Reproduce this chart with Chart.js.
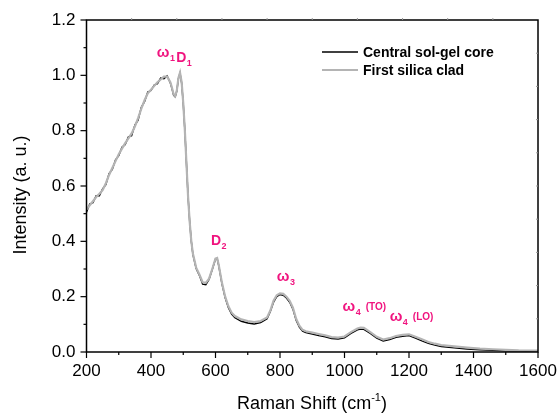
<!DOCTYPE html>
<html>
<head>
<meta charset="utf-8">
<script src="https://cdn.jsdelivr.net/npm/chart.js@4/dist/chart.umd.min.js"></script>
<style>
html,body{margin:0;padding:0;background:#fff;}
#wrap{width:559px;height:416px;position:relative;}
</style>
</head>
<body>
<div id="wrap"><canvas id="c" width="559" height="416"></canvas></div>
<script>
// ---- data ----
const seriesNames = ["Central sol-gel core", "First silica clad"];

const shiftClad = [200,210,220,230,240,250,260,270,280,290,300,310,320,330,340,350,360,370,380,390,400,410,420,430,440,450,460,465,470,475,480,485,490,495,500,505,510,515,520,525,530,540,550,560,570,580,590,600,605,610,620,630,640,650,660,680,700,720,740,760,770,780,790,800,810,820,830,840,850,860,870,880,900,920,940,960,980,1000,1020,1040,1050,1060,1080,1100,1120,1140,1160,1180,1200,1220,1240,1260,1280,1300,1340,1380,1420,1460,1500,1540,1600];
const clad = [0.515,0.53,0.545,0.56,0.572,0.585,0.61,0.64,0.665,0.69,0.715,0.735,0.755,0.772,0.79,0.815,0.845,0.88,0.91,0.935,0.948,0.962,0.975,0.985,0.995,0.995,0.975,0.955,0.932,0.925,0.945,0.99,1.01,0.975,0.9,0.8,0.68,0.56,0.47,0.40,0.355,0.305,0.28,0.252,0.25,0.265,0.3,0.338,0.34,0.315,0.25,0.2,0.165,0.142,0.13,0.118,0.112,0.108,0.112,0.125,0.15,0.185,0.205,0.212,0.21,0.2,0.185,0.16,0.12,0.095,0.08,0.075,0.07,0.065,0.06,0.054,0.052,0.056,0.072,0.085,0.088,0.087,0.072,0.055,0.045,0.05,0.058,0.062,0.064,0.055,0.046,0.036,0.03,0.025,0.02,0.016,0.012,0.01,0.008,0.006,0.005];

const shiftCore = shiftClad;
const core = [0.505,0.535,0.54,0.565,0.565,0.59,0.605,0.645,0.66,0.695,0.71,0.74,0.75,0.778,0.782,0.82,0.838,0.885,0.905,0.94,0.945,0.965,0.97,0.99,0.988,0.998,0.972,0.952,0.928,0.922,0.943,0.988,1.008,0.972,0.898,0.8,0.68,0.56,0.47,0.40,0.352,0.302,0.277,0.245,0.243,0.262,0.298,0.336,0.338,0.312,0.246,0.196,0.16,0.137,0.124,0.111,0.105,0.101,0.106,0.12,0.146,0.18,0.2,0.208,0.205,0.195,0.18,0.155,0.115,0.09,0.075,0.07,0.065,0.059,0.055,0.049,0.047,0.051,0.067,0.08,0.083,0.082,0.067,0.05,0.04,0.045,0.053,0.057,0.059,0.05,0.04,0.031,0.025,0.02,0.015,0.011,0.008,0.006,0.004,0.003,0.002];

const xTicks = [200,400,600,800,1000,1200,1400,1600];
const yTicks = [0.0,0.2,0.4,0.6,0.8,1.0,1.2];

// peak labels: symbol, subscript, extra text, anchor (data units)
const peakMain = ["\u03c9","D","D","\u03c9","\u03c9","\u03c9"];
const peakSub  = ["1","1","2","3","4","4"];
const peakExtra= ["","","","","(TO)","(LO)"];
const peakX = [418,478,586,790,994,1140];
const peakY = [1.066,1.048,0.387,0.257,0.148,0.112];

// ---- chart ----
const PINK = '#f0147f';
const FONT = '"Liberation Sans", Arial, sans-serif';

const toPts = (xs, ys) => xs.map((x,i)=>({x:x, y:ys[i]}));

const decor = {
  id:'decor',
  afterDatasetsDraw(chart){
    const ctx = chart.ctx, a = chart.chartArea;
    const xs = chart.scales.x, ys = chart.scales.y;
    ctx.save();
    // frame
    ctx.strokeStyle = '#000'; ctx.lineWidth = 1.5;
    ctx.strokeRect(a.left, a.top, a.right-a.left, a.bottom-a.top);
    // left ticks
    ctx.lineWidth = 1.2;
    for (let v=0; v<=12; v++){
      const y = ys.getPixelForValue(v/10);
      const len = (v%2===0) ? 6 : 3;
      ctx.beginPath(); ctx.moveTo(a.left, y); ctx.lineTo(a.left-len, y); ctx.stroke();
    }
    // bottom ticks
    for (let v=200; v<=1600; v+=100){
      const x = xs.getPixelForValue(v);
      const len = (v%200===0) ? 6 : 3;
      ctx.beginPath(); ctx.moveTo(x, a.bottom); ctx.lineTo(x, a.bottom+len); ctx.stroke();
    }
    // faint top/right ticks
    ctx.strokeStyle = '#999'; ctx.lineWidth = 1;
    for (let i=1;i<10;i++){
      const x = a.left + (a.right-a.left)*i/10;
      ctx.beginPath(); ctx.moveTo(x, a.top); ctx.lineTo(x, a.top-2); ctx.stroke();
      const y = a.top + (a.bottom-a.top)*i/10;
      ctx.beginPath(); ctx.moveTo(a.right, y); ctx.lineTo(a.right-2, y); ctx.stroke();
    }
    // peak labels
    ctx.fillStyle = PINK; ctx.textBaseline = 'alphabetic'; ctx.textAlign='left';
    for (let i=0;i<peakMain.length;i++){
      let x = xs.getPixelForValue(peakX[i]);
      const y = ys.getPixelForValue(peakY[i]);
      ctx.font = (peakMain[i]==='D' ? 'bold 14px ' : 'bold 15px ') + FONT;
      ctx.fillText(peakMain[i], x, y);
      x += ctx.measureText(peakMain[i]).width + 0.5;
      ctx.font = 'bold 9px ' + FONT;
      ctx.fillText(peakSub[i], x, y+4);
      x += ctx.measureText(peakSub[i]).width + 5;
      if (peakExtra[i]){
        ctx.font = 'bold 10px ' + FONT;
        ctx.fillText(peakExtra[i], x, y-1);
      }
    }
    // legend
    const colors = ['#000','#b4b4b4'], widths=[1.6,2];
    ctx.textBaseline = 'middle';
    ctx.font = 'bold 14px ' + FONT;
    for (let i=0;i<2;i++){
      const ly = 52 + i*18;
      ctx.strokeStyle = colors[i]; ctx.lineWidth = widths[i];
      ctx.beginPath(); ctx.moveTo(322, ly); ctx.lineTo(358, ly); ctx.stroke();
      ctx.fillStyle = '#000';
      ctx.fillText(seriesNames[i], 363, ly+1);
    }
    // axis titles
    ctx.fillStyle = '#000';
    ctx.textBaseline = 'alphabetic';
    const f1 = '18px ' + FONT, f2 = '11px ' + FONT;
    const p1 = 'Raman Shift (cm', p2 = '-1', p3 = ')';
    ctx.font = f1; const w1 = ctx.measureText(p1).width, w3 = ctx.measureText(p3).width;
    ctx.font = f2; const w2 = ctx.measureText(p2).width;
    let tx = 312 - (w1+w2+w3)/2;
    const ty = 409;
    ctx.font = f1; ctx.fillText(p1, tx, ty); tx += w1;
    ctx.font = f2; ctx.fillText(p2, tx, ty-8); tx += w2;
    ctx.font = f1; ctx.fillText(p3, tx, ty);
    ctx.save();
    ctx.translate(26, 195); ctx.rotate(-Math.PI/2);
    ctx.textAlign = 'center'; ctx.font = f1;
    ctx.fillText('Intensity (a. u.)', 0, 0);
    ctx.restore();
    ctx.restore();
  }
};

new Chart(document.getElementById('c'), {
  type: 'line',
  data: {
    datasets: [
      {label: seriesNames[0], data: toPts(shiftCore, core), borderColor:'#000', borderWidth:1.4, pointRadius:0, tension:0, order:1},
      {label: seriesNames[1], data: toPts(shiftClad, clad), borderColor:'#b4b4b4', borderWidth:2.2, pointRadius:0, tension:0, order:0}
    ]
  },
  options: {
    responsive:false, animation:false, devicePixelRatio:1,
    layout:{padding:{left:0,right:21,top:20,bottom:0}},
    plugins:{legend:{display:false}, tooltip:{enabled:false}},
    scales:{
      x:{type:'linear', min:200, max:1600,
         afterBuildTicks(s){ s.ticks = xTicks.map(v=>({value:v})); },
         afterFit(s){ s.height = 64; s.paddingRight = 0; s.paddingLeft = 0; },
         ticks:{font:{size:17, family:FONT}, color:'#000', padding:9, maxRotation:0, autoSkip:false, callback:v=>String(v)},
         grid:{display:false, drawTicks:false}, border:{display:false}},
      y:{type:'linear', min:0, max:1.2,
         afterBuildTicks(s){ s.ticks = yTicks.map(v=>({value:v})); },
         afterFit(s){ s.width = 86.5; s.paddingTop = 0; s.paddingBottom = 0; },
         ticks:{font:{size:17, family:FONT}, color:'#000', padding:11, callback:v=>v.toFixed(1)},
         grid:{display:false, drawTicks:false}, border:{display:false}}
    }
  },
  plugins:[decor]
});
</script>
</body>
</html>
